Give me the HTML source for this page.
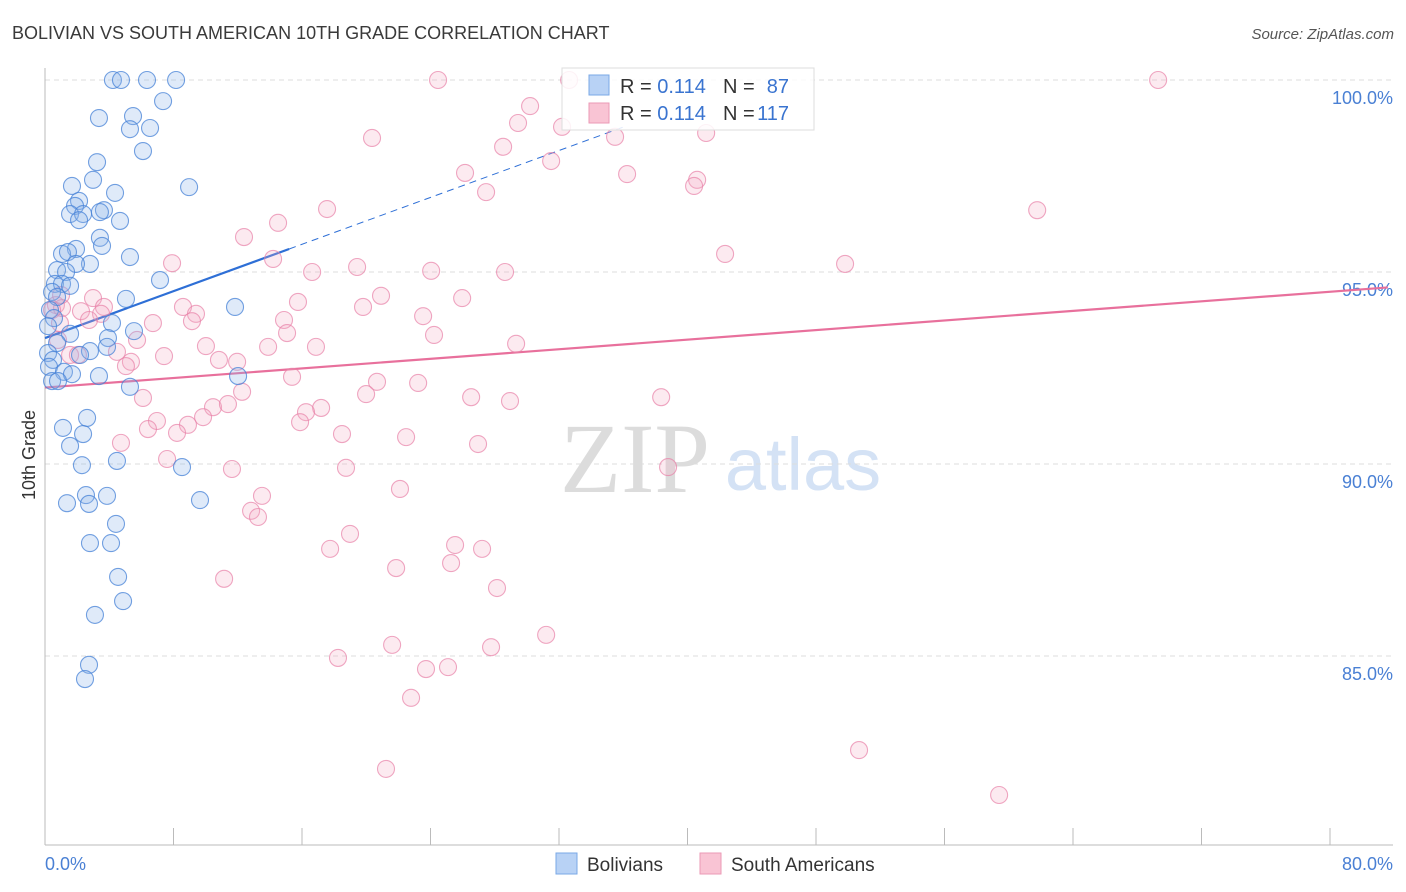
<!DOCTYPE html>
<html><head><meta charset="utf-8">
<style>
body{margin:0;background:#fff;font-family:"Liberation Sans",sans-serif;}
svg{display:block}
</style></head>
<body>
<svg id="chart" width="1406" height="892" xmlns="http://www.w3.org/2000/svg">
<text x="12" y="39" font-size="18" fill="#3a3a3a">BOLIVIAN VS SOUTH AMERICAN 10TH GRADE CORRELATION CHART</text>
<text x="1394" y="39" font-size="15" fill="#555" font-style="italic" text-anchor="end">Source: ZipAtlas.com</text>
<g>
<text x="635" y="492" font-size="100" fill="#dcdcdc" font-family="Liberation Serif,serif" text-anchor="middle">ZIP</text>
<text x="803" y="490" font-size="74" fill="#d4e2f5" text-anchor="middle">atlas</text>
</g>
<g id="grid"></g>
<g id="axes"></g>
<g id="trend"></g>
<g id="pts"></g>
<text x="35" y="455" font-size="18" fill="#333" text-anchor="middle" transform="rotate(-90 35 455)">10th Grade</text>
<g>
<rect x="562" y="68" width="252" height="62" fill="rgba(255,255,255,0.85)" stroke="#ddd"/>
<rect x="589" y="75" width="20" height="20" fill="#b8d2f5" stroke="#7aa8e6"/>
<rect x="589" y="103" width="20" height="20" fill="#f9c4d4" stroke="#eb9ab6"/>
<text x="620" y="93" font-size="20" fill="#333">R = <tspan fill="#3a74d0">0.114</tspan></text>
<text x="723" y="93" font-size="20" fill="#333">N = </text>
<text x="789" y="93" font-size="20" fill="#3a74d0" text-anchor="end">87</text>
<text x="620" y="120" font-size="20" fill="#333">R = <tspan fill="#3a74d0">0.114</tspan></text>
<text x="723" y="120" font-size="20" fill="#333">N = </text>
<text x="789" y="120" font-size="20" fill="#3a74d0" text-anchor="end">117</text>
</g>
<g>
<rect x="556" y="853" width="21" height="21" fill="#b8d2f5" stroke="#7aa8e6"/>
<text x="587" y="871" font-size="19" fill="#333">Bolivians</text>
<rect x="700" y="853" width="21" height="21" fill="#f9c4d4" stroke="#eb9ab6"/>
<text x="731" y="871" font-size="19" fill="#333">South Americans</text>
</g>
</svg>
<script>
const yTicks=[100,95,90,85];
const yTickLabels=["100.0%","95.0%","90.0%","85.0%"];
const xTicks=[0,8,16,24,32,40,48,56,64,72,80];
const blueX=[4.23,4.73,6.35,8.16,7.35,3.36,5.48,5.29,6.54,6.10,3.24,2.99,1.68,4.36,8.97,2.12,1.87,1.56,2.37,3.67,3.42,4.67,2.12,3.42,3.55,1.93,1.06,1.43,5.29,2.80,1.93,0.75,1.31,7.16,0.62,1.06,1.56,0.44,0.75,5.04,11.83,0.31,0.56,4.17,0.19,1.56,5.54,3.92,0.75,2.80,3.86,0.19,2.18,0.50,0.25,1.18,1.68,3.36,0.44,0.81,12.02,5.29,2.62,1.12,2.37,1.56,4.48,2.30,8.53,2.55,3.86,1.37,2.74,9.65,4.42,2.80,4.11,4.55,4.86,3.11,2.74,2.49];
const blueY=[100,100,100,100,99.45,99.01,99.06,98.72,98.75,98.15,97.86,97.40,97.24,97.06,97.21,96.85,96.72,96.51,96.51,96.61,96.56,96.33,96.35,95.89,95.68,95.60,95.47,95.52,95.39,95.21,95.21,95.05,95.00,94.79,94.69,94.69,94.64,94.48,94.35,94.30,94.09,94.01,93.80,93.67,93.59,93.39,93.46,93.28,93.15,92.94,93.05,92.89,92.84,92.71,92.53,92.40,92.34,92.29,92.16,92.16,92.29,92.01,91.20,90.94,90.78,90.47,90.08,89.97,89.92,89.19,89.17,88.98,88.96,89.06,88.44,87.94,87.94,87.06,86.43,86.07,84.77,84.40];
const pinkX=[24.47,32.63,69.30,30.20,20.36,29.45,32.19,35.49,41.16,28.52,31.51,26.15,36.24,27.46,40.60,40.41,17.56,14.51,61.77,12.39,42.34,7.91,14.20,16.63,19.43,24.04,28.64,49.81,20.92,15.75,25.97,19.80,2.99,8.59,0.68,1.06,0.44,2.24,3.67,9.40,14.88,23.54,3.49,2.74,0.93,6.72,15.07,24.22,9.15,5.73,10.02,13.89,16.87,29.33,4.48,7.41,10.83,11.96,5.35,5.04,15.38,20.67,23.23,12.27,19.99,26.53,28.95,38.36,6.10,10.46,11.39,17.19,16.25,9.84,6.97,8.90,15.88,6.41,8.22,18.49,22.48,4.73,26.96,7.60,11.64,18.74,38.79,13.51,22.10,12.83,13.26,18.99,17.75,25.53,27.21,21.86,25.28,11.15,28.14,31.20,21.61,27.77,18.24,23.72,25.09,22.79,50.68,21.23,59.40,1.00,0.81,1.56,2.05];
const pinkY=[100,100,100,99.32,98.49,98.88,98.78,98.52,98.62,98.26,97.89,97.58,97.55,97.08,97.40,97.24,96.64,96.28,96.61,95.91,95.47,95.23,95.34,95.00,95.13,95.03,95.00,95.21,94.38,94.22,94.32,94.09,94.32,94.09,94.14,94.06,94.01,93.98,94.09,93.91,93.75,93.85,93.91,93.75,93.67,93.67,93.41,93.36,93.72,93.23,93.07,93.05,93.05,93.13,92.92,92.81,92.71,92.66,92.66,92.55,92.27,92.14,92.11,91.88,91.82,91.74,91.64,91.74,91.72,91.48,91.56,91.46,91.35,91.22,91.12,91.02,91.09,90.91,90.81,90.78,90.70,90.55,90.52,90.13,89.87,89.90,89.92,89.17,89.35,88.78,88.62,88.18,87.79,87.89,87.79,87.29,87.42,87.01,86.77,85.55,85.29,85.23,84.95,84.66,84.71,83.91,82.55,82.06,81.38,94.40,93.23,92.84,92.84];
const blueTrend=[93.28,0.1526];
const pinkTrend=[91.99,0.0312];
const NS="http://www.w3.org/2000/svg";
const X0=45,X1=1330,Y100=80,PXPER=38.4;
const sx=v=>X0+(X1-X0)*v/80;
const sy=v=>Y100+(100-v)*PXPER;
function mk(t,a,p){const e=document.createElementNS(NS,t);for(const k in a)e.setAttribute(k,a[k]);p.appendChild(e);return e;}
const grid=document.getElementById('grid'),axes=document.getElementById('axes'),trend=document.getElementById('trend'),pts=document.getElementById('pts');
yTicks.forEach((t,i)=>{
 const l=mk('line',{x1:X0,x2:1393,y1:sy(t),y2:sy(t),stroke:'#ddd','stroke-dasharray':'5,4'},grid);
 
 
 const tx=mk('text',{x:1393,y:sy(t)+24,'font-size':18,fill:'#4a80d4','text-anchor':'end'},axes);
 tx.textContent=yTickLabels[i];
 
 
});
const ax=mk('line',{x1:X0,x2:X0,y1:68,y2:845,stroke:'#bbb'},axes);


const bx=mk('line',{x1:X0,x2:1393,y1:845,y2:845,stroke:'#bbb'},axes);


xTicks.forEach(t=>{
 const l=mk('line',{x1:sx(t),x2:sx(t),y1:828,y2:845,stroke:'#bbb'},axes);
 
 
});
const xl0=mk('text',{x:45,y:870,'font-size':18,fill:'#4a80d4'},axes);xl0.textContent='0.0%';


const xl1=mk('text',{x:1393,y:870,'font-size':18,fill:'#4a80d4','text-anchor':'end'},axes);xl1.textContent='80.0%';


function dot(x,y,f,s,name){const c=mk('circle',{cx:sx(x),cy:sy(y),r:8.5,fill:f,stroke:s,'stroke-width':1.1},pts);
 
 }
pinkX.forEach((x,i)=>dot(x,pinkY[i],'rgba(244,170,196,0.25)','rgba(232,130,168,0.7)','south-american-point'));
blueX.forEach((x,i)=>dot(x,blueY[i],'rgba(140,180,235,0.28)','rgba(70,130,215,0.75)','bolivian-point'));
const bl=mk('line',{x1:sx(0),y1:sy(blueTrend[0]),x2:sx(15.2),y2:sy(blueTrend[0]+blueTrend[1]*15.2),stroke:'#2e6fd6','stroke-width':2.2},trend);


const bd=mk('line',{x1:sx(15.2),y1:sy(blueTrend[0]+blueTrend[1]*15.2),x2:sx(36),y2:sy(blueTrend[0]+blueTrend[1]*36),stroke:'#2e6fd6','stroke-width':1,'stroke-dasharray':'7,5'},trend);


const pl=mk('line',{x1:sx(0),y1:sy(pinkTrend[0]),x2:sx(83.6),y2:sy(pinkTrend[0]+pinkTrend[1]*83.6),stroke:'#e8709c','stroke-width':2.2},trend);


</script>
</body></html>
